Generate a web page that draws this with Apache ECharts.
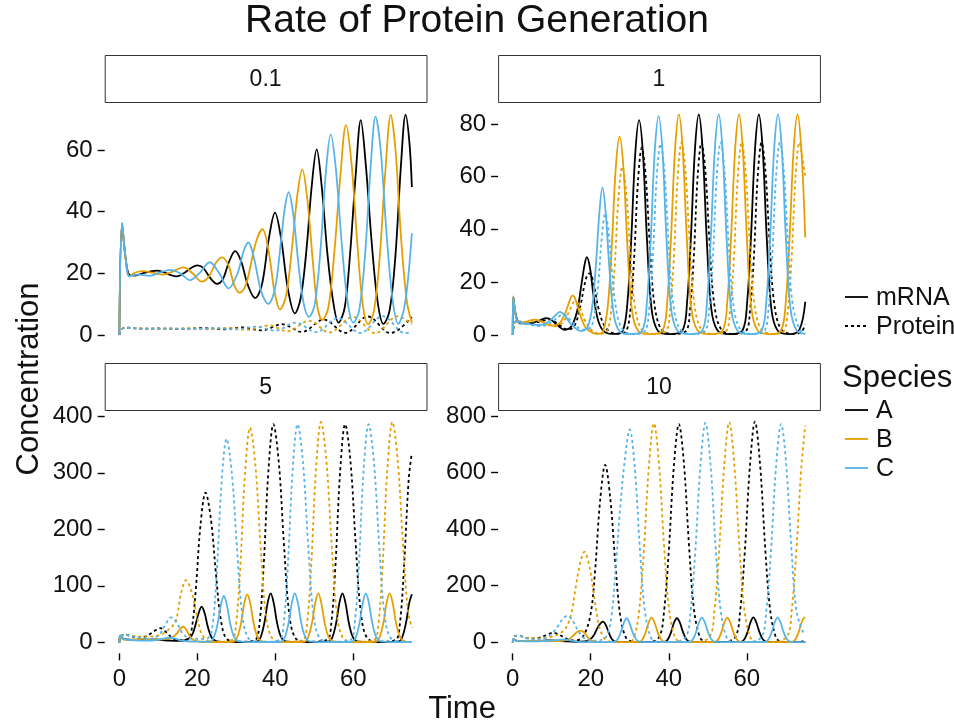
<!DOCTYPE html>
<html>
<head>
<meta charset="utf-8">
<title>Rate of Protein Generation</title>
<script src="https://cdn.jsdelivr.net/npm/echarts@6/dist/echarts.min.js"></script>
<style>
  html, body { margin: 0; padding: 0; background: #fff; }
  #chart { width: 954px; height: 725px; }
</style>
</head>
<body>
<div id="chart"></div>
<script>
// facet labels = rate of protein generation
const facets = ['0.1', '1', '5', '10']
const species = ['A', 'B', 'C']
const timeTicks = [0, 20, 40, 60]
const concTicks = [[0, 20, 40, 60], [0, 20, 40, 60, 80], [0, 100, 200, 300, 400], [0, 200, 400, 600, 800]]

// [time, concentration]
// --- rate 0.1
const r01_mA = [[0,0],[0.7,36],[1.6,25],[2.6,19.5],[4,19.3],[6,20],[8,20.6],[9.6,20.9],[11.5,20.3],[13,19.5],[14.7,19],[16.5,20],[18.5,21.8],[20,22.6],[21.5,21.8],[23.3,18.5],[25,16.6],[26.5,18],[28.2,24],[29.7,27.2],[31.2,24],[33,16],[34.8,12],[36.5,16],[38.3,31],[39.9,39.7],[41.5,31],[43.2,15],[45,7],[46.5,12],[48,28],[49.3,48],[50.6,60.2],[51.9,48],[53.3,27],[54.8,11],[56.2,4],[57.8,9],[59.2,27],[60.6,52],[61.9,69.7],[63.2,55],[64.7,30],[66.2,11],[67.7,3.6],[69.3,8],[70.8,26],[72.2,55],[73.4,71.5],[74.4,62],[75,48]]
const r01_mB = [[0,0],[0.7,36],[1.6,25],[2.6,19],[4,20.2],[6,20.7],[8.5,20.2],[11.3,19.6],[13.5,20.5],[16.4,21.9],[18.8,20],[21.1,17.3],[23,19],[24.8,23.5],[26.4,25.2],[28,22.5],[29.5,16],[30.9,13.7],[32.5,16.5],[35,30],[36.7,34.3],[38.3,27],[39.8,14],[41.2,8.3],[42.8,13],[44.4,30],[45.7,46],[46.9,53.7],[48.2,44],[49.6,24],[50.8,9],[52,4.9],[53.6,9],[55.2,28],[56.7,52],[58.1,68.1],[59.5,56],[61,30],[62.4,10],[63.8,3.5],[65.3,8],[66.8,26],[68.2,53],[69.6,71.4],[70.8,60],[72.2,32],[73.7,11],[75,4]]
const r01_mC = [[0,0],[0.7,36.5],[1.6,25],[2.6,19],[4.5,19.6],[6.2,19.4],[7.9,19.2],[10.5,20.3],[13,21.1],[15.6,20],[18.1,17.8],[20.5,20],[23.2,23.6],[25.6,20],[28,15.1],[30.3,20],[31.8,27],[33.1,30],[34.5,25],[36.4,14],[38.2,10.1],[39.9,15],[41.5,31],[42.4,41],[43.4,46.3],[44.6,39],[46,22],[47.3,10],[48.6,5.9],[50.1,10],[51.6,28],[52.9,52],[54.2,65.1],[55.5,54],[57,30],[58.5,11],[60,4],[61.5,8],[63,26],[64.4,54],[65.7,70.8],[67,60],[68.5,33],[70,12],[71.5,3.6],[72.9,8],[74,18],[75,33]]
const r01_pA = [[0,0],[0.4,1.2],[1.2,2.3],[2.5,2.35],[5,2.05],[10,2.1],[15,2.0],[21.8,2.2],[26.8,1.85],[31.5,2.5],[36.6,1.5],[41.7,3.5],[46.8,1.0],[52.4,5.0],[58,0.7],[63.7,6.0],[69.5,0.6],[75,5.8]]
const r01_pB = [[0,0],[0.4,1.2],[1.2,2.3],[2.5,2.3],[6,2.1],[12,2.0],[18,2.15],[22.9,1.85],[28.2,2.35],[32.7,1.7],[38.5,3.1],[43,1.2],[48.7,4.6],[53.8,0.8],[59.9,5.9],[65.6,0.6],[71.4,6.1],[75,3.5]]
const r01_pC = [[0,0],[0.4,1.2],[1.2,2.3],[2.5,2.3],[6,2.0],[12,2.1],[19.9,1.95],[25,2.2],[29.8,1.8],[34.9,2.7],[40,1.4],[45.2,4.0],[50.4,0.9],[56,5.5],[61.8,0.65],[67.5,6.1],[73.3,0.6],[75,1.0]]

// --- rate 1
const r1_mA = [[0,0],[0.15,14.5],[0.6,9],[1.2,5.5],[1.8,4.4],[3,4.4],[5,4.6],[7,5.6],[8.6,6.4],[10,5.6],[11.5,3.6],[13.3,2.0],[15,3.2],[16.5,9],[17.6,19],[18.4,26.5],[19,29.5],[19.8,25.5],[20.8,14],[22,5],[23.5,1.2],[26,0.4],[28.2,1.6],[29.4,12.2],[30.4,36.7],[31.4,68.5],[32.4,81.5],[33.4,68.5],[34.4,36.7],[35.6,9.8],[37.2,1.6],[40,0.3],[43.5,1.7],[44.7,12.5],[45.7,37.6],[46.7,70],[47.7,83.6],[48.7,70],[49.7,37.6],[50.9,10],[52.5,1.7],[55.5,0.3],[58.9,1.7],[60.1,12.5],[61.1,37.6],[62.1,70],[63.1,83.6],[64.1,70],[65.1,37.6],[66.3,10],[67.9,1.7],[71,0.3],[73.5,2],[75,12.6]]
const r1_mB = [[0,0],[0.15,14.5],[0.6,9],[1.2,5.2],[2.5,4.8],[4,5.3],[5.5,5.8],[6.5,5.6],[8.5,4.2],[10.4,3.5],[12,4.5],[13.5,8.5],[14.6,13],[15.3,14.9],[16,13.8],[17.2,8],[18.6,3],[20.5,0.8],[22,0.4],[23.2,1.5],[24.4,11.3],[25.4,33.8],[26.4,63],[27.4,75.2],[28.4,63],[29.4,33.8],[30.6,9],[32.2,1.5],[35,0.3],[38.4,1.7],[39.6,12.5],[40.6,37.6],[41.6,70],[42.6,83.6],[43.6,70],[44.6,37.6],[45.8,10],[47.4,1.7],[50.5,0.3],[53.8,1.7],[55,12.5],[56,37.6],[57,70],[58,83.6],[59,70],[60,37.6],[61.2,10],[62.8,1.7],[66,0.3],[68.8,1.7],[70,12.5],[71,37.6],[72,70],[73,83.6],[74,70],[75,37]]
const r1_mC = [[0,0],[0.15,14.5],[0.6,9],[1.2,5.2],[2,4.6],[4,4.2],[7,3.8],[9,4.8],[10.8,7.2],[12.1,8.8],[13.3,7.5],[15,4],[17.5,1.5],[19.2,3],[20.4,11],[21.3,26],[22.2,46],[23,56],[23.8,47],[24.8,25],[26,7],[27.5,1.3],[30,0.3],[33.2,1.7],[34.4,12.5],[35.4,37],[36.4,69.5],[37.4,83],[38.4,69.5],[39.4,37],[40.6,10],[42.2,1.7],[45.3,0.3],[48.6,1.7],[49.8,12.5],[50.8,37.6],[51.8,70],[52.8,83.6],[53.8,70],[54.8,37.6],[56,10],[57.6,1.7],[60.7,0.3],[63.8,1.7],[65,12.5],[66,37.6],[67,70],[68,83.6],[69,70],[70,37.6],[71.2,10],[72.8,1.7],[75,0.4]]
const r1_pA = [[0,0],[0.5,4.5],[1.3,5.5],[2.5,4.6],[4,4.4],[6,4.8],[8,5.5],[9.3,5.9],[11,4.8],[12.5,3.2],[14,2.0],[15.8,3.5],[17.2,10],[18.4,19],[19.2,23],[19.8,23.4],[20.8,19],[22,10],[23.5,3.5],[25.5,0.8],[27.5,0.5],[29.1,1.5],[30.1,8.5],[31.1,28.5],[32.1,58],[33.1,71],[34.1,60],[35.1,35.5],[36.3,12],[38.1,2.1],[41,0.4],[44.4,1.5],[45.4,8.8],[46.4,29],[47.4,60],[48.4,73],[49.4,62],[50.4,36.5],[51.6,12.4],[53.4,2.2],[56.5,0.4],[59.8,1.5],[60.8,8.8],[61.8,29],[62.8,60],[63.8,73],[64.8,62],[65.8,36.5],[67,12.4],[68.8,2.2],[72,0.4],[74,1.2],[75,4]]
const r1_pB = [[0,0],[0.5,4.5],[1.3,5.2],[2.5,4.5],[4.5,4.9],[6.2,5.4],[7.5,5.1],[9.5,3.8],[11,3.3],[12.8,4.8],[14.5,9],[15.6,12.4],[16.3,12.6],[17.2,10.5],[18.5,5.5],[20.5,1.5],[22.5,0.4],[24.1,1.3],[25.1,7.5],[26.1,25],[27.1,52],[28.1,63.8],[29.1,54],[30.1,32],[31.3,11],[33.1,2],[36,0.4],[39.3,1.5],[40.3,8.8],[41.3,29],[42.3,60],[43.3,73],[44.3,62],[45.3,36.5],[46.5,12.4],[48.3,2.2],[51.5,0.4],[54.7,1.5],[55.7,8.8],[56.7,29],[57.7,60],[58.7,73],[59.7,62],[60.7,36.5],[61.9,12.4],[63.7,2.2],[66.8,0.4],[69.5,1.5],[70.5,8.8],[71.5,29],[72.5,60],[73.5,73],[74.4,66],[75,60]]
const r1_pC = [[0,0],[0.5,4.5],[1.3,5.3],[2.5,4.6],[4.5,3.9],[7,3.4],[9,4.0],[11,6],[12.8,7.8],[13.8,7.2],[15.5,4.5],[18,2],[20,3],[21.1,9],[22,21],[22.9,38],[23.7,46],[24.5,40],[25.5,23],[26.8,7.5],[28.5,1.5],[31,0.4],[33.9,1.5],[34.9,8.8],[35.9,29],[36.9,59.5],[37.9,72.5],[38.9,62],[39.9,36.5],[41.1,12.4],[42.9,2.2],[46,0.4],[49.3,1.5],[50.3,8.8],[51.3,29],[52.3,60],[53.3,73],[54.3,62],[55.3,36.5],[56.5,12.4],[58.3,2.2],[61.4,0.4],[64.5,1.5],[65.5,8.8],[66.5,29],[67.5,60],[68.5,73],[69.5,62],[70.5,36.5],[71.7,12.4],[73.5,2.2],[75,0.6]]

// --- rate 5
const r5_mA = [[0,0],[0.2,12],[0.8,7],[2,5],[4,4],[7,4.5],[9,5],[11,4],[13,3],[15,2.5],[17,4],[18.5,11],[19.5,30],[20.3,51],[21.1,63],[21.9,51],[22.7,27],[23.7,8],[25,1.5],[28,0.3],[35.2,1],[36.2,8.6],[37.2,34.6],[38,69],[38.8,86.5],[39.6,69],[40.4,36],[41.4,10.4],[42.6,1.7],[46,0.3],[53.6,1],[54.6,8.6],[55.6,34.6],[56.4,69],[57.2,86.5],[58,69],[58.8,36],[59.8,10.4],[61,1.7],[64.5,0.3],[71.5,1],[72.5,8.6],[73.5,34.6],[74.3,69],[75,85]]
const r5_mB = [[0,0],[0.2,12],[0.8,6],[2,4.5],[4,5],[6,6],[8,5],[10,5],[12,6],[13.5,8],[14.8,16],[15.6,24],[16.4,27.6],[17.2,22],[18,12],[19,4],[20.5,1],[23,0.3],[29.2,1],[30.2,8.5],[31.2,34],[32,68],[32.8,85],[33.6,68],[34.4,35],[35.4,10],[36.6,1.7],[40,0.3],[47.4,1],[48.4,8.6],[49.4,34.6],[50.2,69],[51,86.5],[51.8,69],[52.6,36],[53.6,10.4],[54.8,1.7],[58.3,0.3],[65.7,1],[66.7,8.6],[67.7,34.6],[68.5,69],[69.3,86.5],[70.1,69],[70.9,36],[71.9,10.4],[73.1,1.7],[75,0.3]]
const r5_mC = [[0,0],[0.2,12],[0.8,7],[2,5],[4,3.5],[7,3],[9,3.5],[11,6],[13,8.5],[14.5,6],[16,3],[18,1.5],[21,1.2],[23.2,1],[24.2,8.2],[25.2,33],[26,65],[26.8,82],[27.6,65],[28.4,34],[29.4,10],[30.6,1.6],[34,0.3],[41.4,1],[42.4,8.6],[43.4,34.6],[44.2,69],[45,86.5],[45.8,69],[46.6,36],[47.6,10.4],[48.8,1.7],[52.3,0.3],[59.6,1],[60.6,8.6],[61.6,34.6],[62.4,69],[63.2,86.5],[64,69],[64.8,36],[65.8,10.4],[67,1.7],[70.5,0.3],[75,0.3]]
const r5_pA = [[0,0],[0.4,10],[1.2,14],[3,11],[5,8],[7,11],[9,20],[10.5,25],[12,18],[13.5,8],[14.8,4],[16,4.5],[17.4,5],[18.5,21],[19.6,93],[20.8,207],[22.1,265],[23.5,217],[24.8,119],[26.1,37],[27.7,5],[31,1],[34.8,4],[35.9,31],[37,135],[38.2,301],[39.5,386],[40.9,317],[42.2,174],[43.5,54],[45.1,8],[48,1],[53.2,4],[54.3,31],[55.4,135],[56.6,301],[57.9,386],[59.3,317],[60.6,174],[61.9,54],[63.5,8],[66.5,1],[70.8,4],[71.9,31],[73,135],[74.2,290],[75,335]]
const r5_pB = [[0,0],[0.4,10],[1.2,13],[3,11.5],[6.2,10],[8,10],[11,15],[13.5,28],[14.6,40],[15.8,86],[17.1,110],[18.5,90],[19.8,50],[21.1,15],[22.7,3],[25,1],[28.8,4],[29.9,30],[31,133],[32.2,296],[33.5,380],[34.9,312],[36.2,171],[37.5,53],[39.1,8],[42,1],[47,4],[48.1,31],[49.2,137],[50.4,304],[51.7,390],[53.1,320],[54.4,176],[55.7,55],[57.3,8],[60.3,1],[65.3,4],[66.4,31],[67.5,137],[68.7,304],[70,390],[71.4,320],[72.7,176],[74,55],[75,26]]
const r5_pC = [[0,0],[0.4,10],[1.2,13.5],[3,11],[5.5,8],[8,6],[10,12],[11.7,30],[13.3,44],[14.7,35],[16,18],[17.5,8],[19,6],[21,6],[22.8,8],[23.9,29],[25,126],[26.2,281],[27.5,360],[28.9,295],[30.2,162],[31.5,50],[33.1,7],[36,1],[41,4],[42.1,31],[43.2,135],[44.4,301],[45.7,386],[47.1,317],[48.4,174],[49.7,54],[51.3,8],[54.3,1],[59.2,4],[60.3,31],[61.4,135],[62.6,301],[63.9,386],[65.3,317],[66.6,174],[67.9,54],[69.5,8],[72.5,1],[75,0.5]]

// --- rate 10
const r10_mA = [[0,0],[0.2,12],[0.8,6],[2,4],[5,4],[8,6],[10,7],[12,5],[14,3],[16,2],[18.5,3],[19.8,10],[20.8,25],[21.7,50],[22.4,65],[23.1,73],[23.8,63],[24.6,35],[25.5,10],[26.6,1.5],[30,0.3],[38.7,1],[39.7,9],[40.6,36],[41.35,70],[42.1,85],[42.85,70],[43.6,38],[44.5,11],[45.6,1.5],[50,0.3],[58.3,1],[59.3,9],[60.2,36],[60.95,70],[61.7,88],[62.45,70],[63.2,38],[64.1,11],[65.2,1.5],[70,0.3],[75,0.3]]
const r10_mB = [[0,0],[0.2,12],[0.8,6],[2,4.5],[5,5],[8,5],[11,4],[13,6],[14.5,12],[15.6,25],[16.6,37],[17.5,41],[18.4,33],[19.3,17],[20.3,5],[21.5,1],[25,0.3],[32.2,1],[33.2,9],[34.1,36],[34.85,70],[35.6,87],[36.35,70],[37.1,38],[38,11],[39.1,1.5],[44,0.3],[51.6,1],[52.6,9],[53.5,36],[54.25,70],[55,87],[55.75,70],[56.5,38],[57.4,11],[58.5,1.5],[63,0.3],[71.4,1],[72.4,9],[73.3,36],[74.05,70],[74.8,87],[75,86]]
const r10_mC = [[0,0],[0.2,12],[0.8,6],[2,4],[5,3],[8,4],[10.5,7],[12.4,9.5],[13.4,10],[14.4,8],[15.6,4],[17,1.5],[19,0.5],[24,0.5],[25.8,1],[26.8,9],[27.7,35],[28.45,68],[29.2,85],[29.95,68],[30.7,37],[31.6,11],[32.7,1.5],[37,0.3],[45.1,1],[46.1,9],[47,36],[47.75,70],[48.5,87],[49.25,70],[50,38],[50.9,11],[52,1.5],[56,0.3],[64.5,1],[65.5,9],[66.4,36],[67.15,70],[67.9,87],[68.65,70],[69.4,38],[70.3,11],[71.4,1.5],[75,0.3]]
const r10_pA = [[0,0],[0.5,22],[1.5,24],[3.5,15],[6,14],[8.5,25],[10.4,34],[12.3,24],[14,12],[16,6],[18,20],[19.9,95],[21.1,250],[22.4,500],[23.7,627],[25,510],[26.3,280],[27.5,100],[28.9,20],[30.5,3],[35,0.5],[37.6,20],[38.8,110],[40,320],[41.3,620],[42.6,771],[43.9,630],[45.2,340],[46.4,125],[47.8,25],[49.1,3],[54,0.5],[57.1,20],[58.3,110],[59.5,320],[60.8,620],[62.1,780],[63.4,630],[64.7,340],[65.9,125],[67.3,25],[68.6,3],[73,0.5],[75,6]]
const r10_pB = [[0,0],[0.5,22],[1.5,23],[3.5,16],[6,14],[8,15],[10,20],[12,30],[13.8,55],[15,100],[16.1,190],[17.2,275],[18.4,320],[19.7,265],[21,150],[22.2,55],[23.6,12],[25,2],[30,0.5],[31.2,20],[32.4,110],[33.6,320],[34.9,620],[36.2,774],[37.5,630],[38.8,340],[40,125],[41.4,25],[42.7,3],[47,0.5],[50.5,20],[51.7,110],[52.9,320],[54.2,620],[55.5,778],[56.8,630],[58.1,340],[59.3,125],[60.7,25],[62,3],[66,0.5],[70.3,20],[71.5,110],[72.7,320],[74,620],[75,766]]
const r10_pC = [[0,0],[0.5,22],[1.5,23],[3.5,14],[6,10],[8,14],[10,30],[11.5,55],[12.8,82],[14,94],[15.3,78],[16.6,45],[18,18],[19.5,8],[21.5,6],[23,10],[24,20],[25.2,80],[26.4,260],[27.4,450],[28.7,640],[30,752],[31.3,615],[32.6,330],[33.8,120],[35.2,24],[36.5,3],[41,0.5],[44.4,20],[45.6,110],[46.8,320],[48.1,620],[49.4,775],[50.7,630],[52,340],[53.2,125],[54.6,25],[55.9,3],[60,0.5],[63.8,20],[65,110],[66.2,320],[67.5,620],[68.8,771],[70.1,630],[71.4,340],[72.6,125],[74,48],[75,26]]

const panels = [
  { mRNA: [r01_mA, r01_mB, r01_mC], Protein: [r01_pA, r01_pB, r01_pC] },
  { mRNA: [r1_mA, r1_mB, r1_mC], Protein: [r1_pA, r1_pB, r1_pC] },
  { mRNA: [r5_mA, r5_mB, r5_mC], Protein: [r5_pA, r5_pB, r5_pC] },
  { mRNA: [r10_mA, r10_mB, r10_mC], Protein: [r10_pA, r10_pB, r10_pC] }
]

// layout
const FONT = '"Liberation Sans", Arial, Helvetica, sans-serif'
const INK = '#111'
const COLORS = { A: '#000000', B: '#E69F00', C: '#56B4E9' }
const GRIDS = [
  { left: 104.7, top: 102, width: 321.8, height: 244 },
  { left: 498.1, top: 102, width: 321.8, height: 244 },
  { left: 104.7, top: 410, width: 321.8, height: 243.4 },
  { left: 498.1, top: 410, width: 321.8, height: 243.4 }
]
const Y_RANGE = [[-3.57, 75.57], [-4.17, 88.34], [-19.6, 411.2], [-39.2, 820.8]]
const STRIP_H = 47

const chart = echarts.init(document.getElementById('chart'), null, { renderer: 'canvas' })

const series = []
panels.forEach((p, i) => {
  species.forEach((sp, k) => {
    ['mRNA', 'Protein'].forEach(kind => {
      series.push({
        type: 'line',
        xAxisIndex: i, yAxisIndex: i,
        data: p[kind][k],
        showSymbol: false,
        smooth: 0.35,
        silent: true,
        lineStyle: { color: COLORS[sp], width: 1.8, type: kind === 'Protein' ? [3, 3] : 'solid' }
      })
    })
  })
})

const tickStyle = { color: '#000', width: 1.4 }

// axes sit on the panel edges, not on the zero lines
const xAxis = GRIDS.map((g, i) => ({
  type: 'value', gridIndex: i, min: -3.75, max: 78.75, position: 'bottom',
  axisLine: { show: false, onZero: false }, splitLine: { show: false },
  axisTick: { show: i >= 2, length: 7, lineStyle: tickStyle, customValues: timeTicks },
  axisLabel: { show: i >= 2, fontSize: 24, fontFamily: FONT, color: INK, margin: 14, customValues: timeTicks }
}))

const yAxis = GRIDS.map((g, i) => ({
  type: 'value', gridIndex: i, min: Y_RANGE[i][0], max: Y_RANGE[i][1], position: 'left',
  axisLine: { show: false, onZero: false }, splitLine: { show: false },
  axisTick: { show: true, length: 7, lineStyle: tickStyle, customValues: concTicks[i] },
  axisLabel: { fontSize: 24, fontFamily: FONT, color: INK, margin: 12, customValues: concTicks[i] }
}))

// facet strips
const graphic = []
GRIDS.forEach((g, i) => {
  const top = g.top - STRIP_H
  graphic.push({
    type: 'rect', silent: true,
    shape: { x: g.left + 0.5, y: top + 0.5, width: g.width, height: STRIP_H },
    style: { fill: '#fff', stroke: '#333', lineWidth: 1 }
  })
  graphic.push({
    type: 'text', silent: true,
    style: {
      text: facets[i], x: g.left + g.width / 2, y: top + STRIP_H / 2 + 1,
      font: '23px ' + FONT, fill: INK, textAlign: 'center', textVerticalAlign: 'middle'
    }
  })
})

// axis titles
graphic.push({
  type: 'text', silent: true, x: 29, y: 379, rotation: Math.PI / 2,
  style: { text: 'Concentration', font: '31px ' + FONT, fill: INK, textAlign: 'center', textVerticalAlign: 'middle' }
})
graphic.push({
  type: 'text', silent: true,
  style: { text: 'Time', x: 462, y: 709, font: '31px ' + FONT, fill: INK, textAlign: 'center', textVerticalAlign: 'middle' }
})

// legends: line type, then species colour
function legendRow(y, label, color, dash) {
  graphic.push({
    type: 'line', silent: true,
    shape: { x1: 845, y1: y, x2: 868, y2: y },
    style: { stroke: color, lineWidth: 1.8, lineDash: dash }
  })
  graphic.push({
    type: 'text', silent: true,
    style: { text: label, x: 876, y: y + 1, font: '25px ' + FONT, fill: INK, textAlign: 'left', textVerticalAlign: 'middle' }
  })
}
legendRow(297, 'mRNA', '#000', null)
legendRow(326, 'Protein', '#000', [3, 3])
graphic.push({
  type: 'text', silent: true,
  style: { text: 'Species', x: 842, y: 378, font: '31px ' + FONT, fill: INK, textAlign: 'left', textVerticalAlign: 'middle' }
})
legendRow(410, 'A', COLORS.A, null)
legendRow(439, 'B', COLORS.B, null)
legendRow(468, 'C', COLORS.C, null)

chart.setOption({
  animation: false,
  backgroundColor: '#fff',
  title: {
    text: 'Rate of Protein Generation', left: 'center', top: 2, padding: 0,
    textStyle: { fontSize: 39, fontWeight: 'normal', fontFamily: FONT, color: INK }
  },
  grid: GRIDS,
  xAxis,
  yAxis,
  series,
  graphic
})
</script>
</body>
</html>
